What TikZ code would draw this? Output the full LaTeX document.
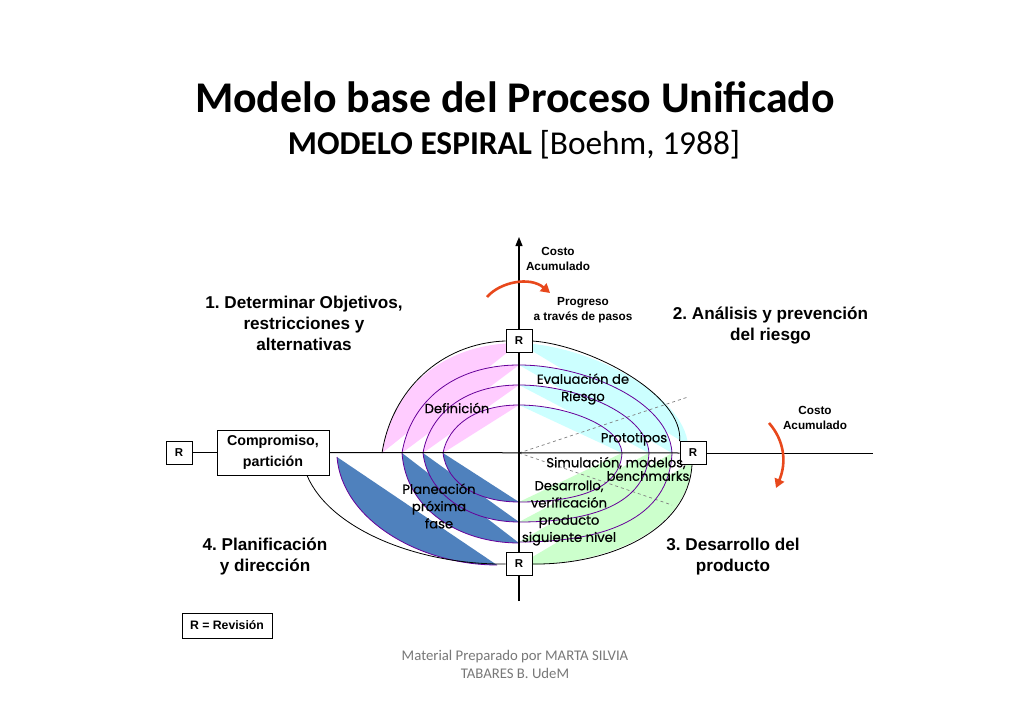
\documentclass[tikz,border=0pt]{standalone}
\usepackage{fontspec}
\setmainfont{Liberation Sans}
\newfontfamily\titlefont{Carlito}
\newfontfamily\comicfont[FakeBold=0.5]{Poppins}
\usetikzlibrary{arrows.meta}
\frenchspacing
\definecolor{pinkf}{RGB}{255,204,255}
\definecolor{cyanf}{RGB}{204,255,255}
\definecolor{greenf}{RGB}{204,255,204}
\definecolor{bluef}{RGB}{79,129,189}
\definecolor{purp}{RGB}{102,0,153}
\definecolor{redarr}{RGB}{232,72,28}
\definecolor{footgray}{RGB}{120,120,120}
\begin{document}
\begin{tikzpicture}[x=1bp,y=-1bp,
  rbox/.style={draw,fill=white,minimum width=26bp,minimum height=23bp,inner sep=0pt,line width=0.8bp,font=\fontsize{11.5}{13}\selectfont\bfseries},
  wbox/.style={draw,fill=white,inner sep=0pt,line width=0.8bp,align=center},
  biglabel/.style={align=center,inner sep=0pt,font=\fontsize{17.2}{21}\selectfont\bfseries},
  smalllabel/.style={align=center,inner sep=0pt,font=\fontsize{11.8}{15}\selectfont\bfseries},
  comic/.style={align=center,inner sep=0pt,font=\comicfont\fontsize{13.2}{17.3}\selectfont},
  spiral/.style={draw=purp,line width=0.8bp},
  outer/.style={draw=black,line width=0.8bp},
  redarrow/.style={draw=redarr,line width=2.6bp,-{Triangle[length=9bp,width=10bp]}}
]
\useasboundingbox[fill=white] (0,0) rectangle (1030,728);

% ---------- title ----------
\node[inner sep=0pt,font=\titlefont\fontsize{44}{50}\selectfont\bfseries] (title) at (515,97) {Modelo base del Proceso Unificado};
\node[inner sep=0pt,font=\titlefont\fontsize{33.5}{38}\selectfont] (subtitle) at (514,145) {\textbf{MODELO ESPIRAL} [Boehm, 1988]};

% ---------- quadrant fills (lenses) ----------
% upper left (pink)
\fill[pinkf] (382,453) .. controls (391.6,390.3) and (440.9,343) .. (519,343) -- cycle;
\fill[pinkf] (402,453) .. controls (410.2,402.8) and (452.3,365) .. (519,365) -- cycle;
\fill[pinkf] (423,453) .. controls (429.7,414.2) and (464.3,385) .. (519,385) -- cycle;
\fill[pinkf] (443,453) .. controls (448.3,425.6) and (475.7,405) .. (519,405) -- cycle;
% upper right (cyan)
\fill[cyanf] (519,343) .. controls (590,345) and (684,395) .. (688,445) -- cycle;
\fill[cyanf] (519,365) .. controls (583.3,365) and (669,400.2) .. (672,453) -- cycle;
\fill[cyanf] (519,385) .. controls (573.6,385) and (646.4,412.2) .. (649,453) -- cycle;
\fill[cyanf] (519,405) .. controls (562.3,405) and (620,424.2) .. (622,453) -- cycle;
% lower right (green)
\fill[greenf] (692,462) .. controls (688,530) and (610,565) .. (519,565) -- cycle;
\fill[greenf] (672,453) .. controls (669,519.8) and (603.2,542) .. (519,542) -- cycle;
\fill[greenf] (649,453) .. controls (646.4,504.8) and (590.5,522) .. (519,522) -- cycle;
\fill[greenf] (622,453) .. controls (620,489.8) and (575.7,502) .. (519,502) -- cycle;
% lower left (blue)
\fill[bluef] (337,457) .. controls (342,520) and (420,565) .. (497,565) -- cycle;
\fill[bluef] (402,453) .. controls (406,510) and (460,543) .. (519,543) -- cycle;
\fill[bluef] (423,453) .. controls (428,495) and (470,522) .. (519,522) -- cycle;
\fill[bluef] (443,453) .. controls (447,485) and (480,502) .. (519,502) -- cycle;

% ---------- dashed rays ----------
\coordinate (orig) at (519,453);
\coordinate (rayup) at (688,397);
\coordinate (raydn) at (672,505);
\draw[gray,dashed,line width=0.7bp] (orig) -- (rayup);
\draw[gray,dashed,line width=0.7bp] (orig) -- (raydn);

% ---------- spiral arcs ----------
\draw[spiral] (402,453) .. controls (410.2,402.8) and (452.3,365) .. (519,365)
  .. controls (583.3,365) and (669,400.2) .. (672,453)
  .. controls (669,519.8) and (603.2,542) .. (519,542);
\draw[spiral] (423,453) .. controls (429.7,414.2) and (464.3,385) .. (519,385)
  .. controls (573.6,385) and (646.4,412.2) .. (649,453)
  .. controls (646.4,504.8) and (590.5,522) .. (519,522);
\draw[spiral] (443,453) .. controls (448.3,425.6) and (475.7,405) .. (519,405)
  .. controls (562.3,405) and (620,424.2) .. (622,453)
  .. controls (620,489.8) and (575.7,502) .. (519,502);
\draw[spiral] (402,453) .. controls (406,510) and (460,543) .. (519,543);
\draw[spiral] (423,453) .. controls (428,495) and (470,522) .. (519,522);
\draw[spiral] (443,453) .. controls (447,485) and (480,502) .. (519,502);
\draw[spiral] (337,457) .. controls (342,520) and (420,565) .. (497,565);

% ---------- axes ----------
\coordinate (vbot) at (519,601);
\coordinate (vtop) at (519,237);
\coordinate (hend) at (873,453);
\draw[line width=1.1bp,-{Triangle[length=9bp,width=7bp]}] (vbot) -- (vtop);

% ---------- boxes ----------
\node[rbox] (Rtop) at (519,341) {R};
\node[rbox] (Rright) at (693,453) {R};
\node[rbox] (Rbot) at (519,564) {R};
\node[rbox] (Rleft) at (179,452.5) {R};
\node[wbox,minimum width=112bp,minimum height=45bp,font=\fontsize{14.3}{21}\selectfont\bfseries] (comp) at (273,452.5) {Compromiso,\\partición};
\node[wbox,minimum width=90bp,minimum height=25bp,font=\fontsize{12.3}{14}\selectfont\bfseries] (rev) at (227,625.5) {R = Revisión};

\draw[line width=1bp] (Rleft) -- (comp);
\draw[line width=1bp] (comp.east) -- (Rright.west);
\draw[line width=1bp] (Rright.east) -- (hend);

% ---------- outer black curves ----------
\draw[outer] (382,453) .. controls (391.6,390.3) and (440.9,343) .. (Rtop.west);
\draw[outer] (Rtop.east) .. controls (590,345) and (684,395) .. (Rright.north west);
\draw[outer] ([xshift=-1bp]Rright.south) .. controls (688,530) and (610,565) .. (Rbot.east);
\draw[outer] ([xshift=34bp]comp.south) .. controls (330,530) and (420,565) .. (Rbot.west);

% ---------- red arrows ----------
\draw[redarrow] (487,297) .. controls (500,282) and (530,276) .. (550,293);
\draw[redarrow] (769,423) .. controls (784,440) and (787,462) .. (776,488);

% ---------- labels ----------
\node[smalllabel] (costo1) at (558,258.5) {Costo\\Acumulado};
\node[smalllabel] (progreso) at (583,310) {Progreso\\a través de pasos};
\node[smalllabel] (costo2) at (815,418) {Costo\\Acumulado};
\node[biglabel] (q1) at (304,323.5) {1. Determinar Objetivos,\\restricciones y\\alternativas};
\node[biglabel] (q2) at (770.5,325.5) {2. Análisis y prevención\\del riesgo};
\node[biglabel] (q4) at (265,556.5) {4. Planificación\\y dirección};
\node[biglabel] (q3) at (733,556.5) {3. Desarrollo del\\producto};

\node[comic] (eval) at (583,389) {Evaluación de\\Riesgo};
\node[comic] (defi) at (457,408) {Definición};
\node[comic] (proto) at (634,439) {Prototipos};
\node[comic] (simul) at (616,463) {Simulación, modelos,};
\node[comic] (bench) at (648,476) {benchmarks};
\node[comic] (desa) at (569,513) {Desarrollo,\\verificación\\producto\\siguiente nivel};
\node[comic] (plan) at (439,506) {Planeación\\próxima\\fase};

% ---------- footer ----------
\node[align=center,inner sep=0pt,text=footgray,font=\titlefont\fontsize{14.8}{18}\selectfont] (footer) at (515,664) {Material Preparado por MARTA SILVIA\\TABARES B. UdeM};
\end{tikzpicture}
\end{document}
